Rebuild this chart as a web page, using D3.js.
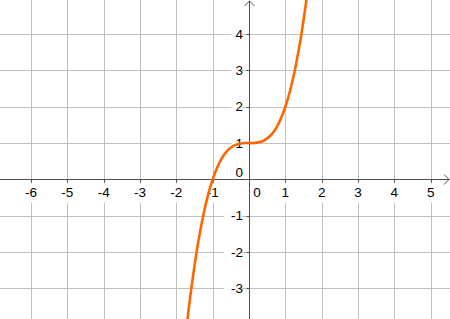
<!DOCTYPE html>
<html>
<head>
<meta charset="utf-8">
<script src="https://cdn.jsdelivr.net/npm/d3@7"></script>
<style>
  body { margin: 0; background: #fff; }
  text { font-family: "Liberation Sans", Arial, sans-serif; font-size: 13.5px; fill: #000; }
</style>
</head>
<body>
<div id="chart"></div>
<script>
// values
const curveX = [-1.75, -1.625, -1.5, -1.375, -1.25, -1.125, -1, -0.875, -0.75, -0.625, -0.5, -0.375, -0.25, -0.125, 0,
                0.125, 0.25, 0.375, 0.5, 0.625, 0.75, 0.875, 1, 1.125, 1.25, 1.375, 1.5, 1.625, 1.75];
const curveY = [-4.36, -3.29, -2.38, -1.6, -0.95, -0.42, 0, 0.33, 0.58, 0.76, 0.88, 0.95, 0.98, 1.0, 1.0,
                1.0, 1.02, 1.05, 1.13, 1.24, 1.42, 1.67, 2.0, 2.42, 2.95, 3.6, 4.38, 5.29, 6.36];

const xTicks = [-6, -5, -4, -3, -2, -1, 0, 1, 2, 3, 4, 5];
const yTicks = [-3, -2, -1, 0, 1, 2, 3, 4];

const width = 450, height = 319;

const svg = d3.select("#chart")
              .append("svg")
              .attr("width", width)
              .attr("height", height);

const x = d3.scaleLinear()
            .domain([-6.852, 5.531])
            .range([0, width]);

const y = d3.scaleLinear()
            .domain([-3.841, 4.937])
            .range([height, 0]);

// grid
const gridX = d3.range(-6, 6);
const gridY = d3.range(-3, 5);

svg.append("g")
   .selectAll("line")
   .data(gridX)
   .enter()
   .append("line")
   .attr("x1", d => Math.round(x(d)) + 0.5)
   .attr("x2", d => Math.round(x(d)) + 0.5)
   .attr("y1", 0)
   .attr("y2", height)
   .attr("stroke", "#c0c0c0")
   .attr("stroke-width", 1);

svg.append("g")
   .selectAll("line")
   .data(gridY)
   .enter()
   .append("line")
   .attr("y1", d => Math.round(y(d)) + 0.5)
   .attr("y2", d => Math.round(y(d)) + 0.5)
   .attr("x1", 0)
   .attr("x2", width)
   .attr("stroke", "#c0c0c0")
   .attr("stroke-width", 1);

// axes
const ax0 = Math.round(x(0)) + 0.5;
const ay0 = Math.round(y(0)) + 0.5;

// x tick labels (white box cuts the grid line)
const xLab = svg.append("g")
                .selectAll("g")
                .data(xTicks)
                .enter()
                .append("g")
                .attr("transform", d => `translate(${x(d) + (d === 0 ? 8 : 0)},${y(0) + 13})`);

xLab.append("rect")
    .attr("x", d => -String(d).length * 4 - 2)
    .attr("y", -9)
    .attr("width", d => String(d).length * 8 + 4)
    .attr("height", 19)
    .attr("fill", "#fff");

xLab.append("text")
    .attr("text-anchor", "middle")
    .attr("dy", "0.35em")
    .text(d => String(d));

// y tick labels
const yLab = svg.append("g")
                .selectAll("g")
                .data(yTicks)
                .enter()
                .append("g")
                .attr("transform", d => `translate(${x(0) - 6},${y(d) - (d === 0 ? 7 : 0)})`);

yLab.filter(d => d !== 0)
    .append("rect")
    .attr("x", d => -String(d).length * 7.5 - 4)
    .attr("y", -9)
    .attr("width", d => String(d).length * 7.5 + 3)
    .attr("height", 18)
    .attr("fill", "#fff");

yLab.append("text")
    .attr("text-anchor", "end")
    .attr("dy", "0.35em")
    .text(d => String(d));

// axis lines, small ticks and arrows
svg.append("line")
   .attr("x1", 0).attr("x2", width - 1)
   .attr("y1", ay0).attr("y2", ay0)
   .attr("stroke", "#505050");

svg.append("line")
   .attr("x1", ax0).attr("x2", ax0)
   .attr("y1", 1).attr("y2", height)
   .attr("stroke", "#505050");

svg.append("g")
   .selectAll("line")
   .data(xTicks.filter(d => d !== 0))
   .enter()
   .append("line")
   .attr("x1", d => Math.round(x(d)) + 0.5)
   .attr("x2", d => Math.round(x(d)) + 0.5)
   .attr("y1", ay0)
   .attr("y2", ay0 + 3)
   .attr("stroke", "#505050");

svg.append("g")
   .selectAll("line")
   .data(yTicks.filter(d => d !== 0))
   .enter()
   .append("line")
   .attr("y1", d => Math.round(y(d)) + 0.5)
   .attr("y2", d => Math.round(y(d)) + 0.5)
   .attr("x1", ax0 - 3)
   .attr("x2", ax0)
   .attr("stroke", "#505050");

svg.append("path")
   .attr("d", `M${width - 6},${ay0 - 5}L${width - 1},${ay0}L${width - 6},${ay0 + 5}`)
   .attr("fill", "none")
   .attr("stroke", "#505050");

svg.append("path")
   .attr("d", `M${ax0 - 5},6L${ax0},1L${ax0 + 5},6`)
   .attr("fill", "none")
   .attr("stroke", "#505050");

// function curve
const points = curveX.map((v, i) => [v, curveY[i]]);

svg.append("path")
   .datum(points)
   .attr("d", d3.line()
               .x(d => x(d[0]))
               .y(d => y(d[1]))
               .curve(d3.curveCatmullRom))
   .attr("fill", "none")
   .attr("stroke", "#ff6600")
   .attr("stroke-width", 2.6)
   .attr("stroke-linecap", "round");
</script>
</body>
</html>
